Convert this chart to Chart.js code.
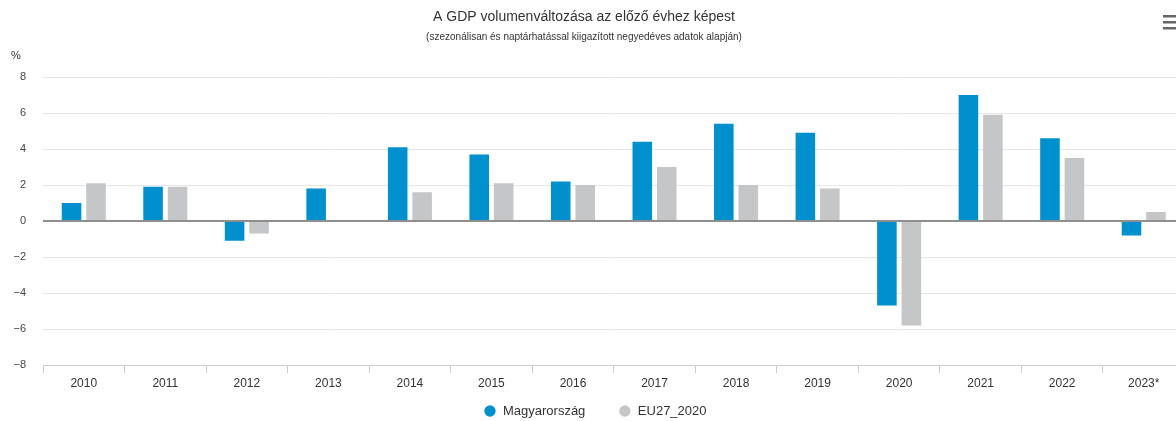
<!DOCTYPE html>
<html><head><meta charset="utf-8">
<script src="https://cdn.jsdelivr.net/npm/chart.js@4"></script>
<style>html,body{margin:0;padding:0;background:#fff;overflow:hidden;width:1176px;height:421px}
#wrap{position:relative;width:1185px;height:421px}</style></head>
<body><div id="wrap"><canvas id="c"></canvas></div>
<script>
const categories = ['2010','2011','2012','2013','2014','2015','2016','2017','2018','2019','2020','2021','2022','2023*'];
const huValues = [1.0, 1.9, -1.1, 1.8, 4.1, 3.7, 2.2, 4.4, 5.4, 4.9, -4.7, 7.0, 4.6, -0.8];
const euValues = [2.1, 1.9, -0.7, 0.0, 1.6, 2.1, 2.0, 3.0, 2.0, 1.8, -5.8, 5.9, 3.5, 0.5];
const yTicks = [-8, -6, -4, -2, 0, 2, 4, 6, 8];
const seriesNames = ['Magyarország', 'EU27_2020'];
const titleText = 'A GDP volumenváltozása az előző évhez képest';
const subtitleText = '(szezonálisan és naptárhatással kiigazított negyedéves adatok alapján)';
const unitText = '%';

const FONT = '"Liberation Sans", Arial, Helvetica, sans-serif';

const decor = {
  id: 'decor',
  afterLayout(chart) {
    const l = chart.legend;
    if (l) {
      const h = l.height;
      l.top = chart.chartArea.bottom + 6.5;
      l.bottom = l.top + h;
    }
  },
  afterDraw(chart) {
    const ctx = chart.ctx;
    ctx.save();
    ctx.fillStyle = '#333333';
    ctx.textAlign = 'center';
    ctx.textBaseline = 'middle';
    ctx.font = '14px ' + FONT;
    ctx.fillText(titleText, 584, 17);
    ctx.font = '10px ' + FONT;
    ctx.fillText(subtitleText, 584, 37);
    ctx.textAlign = 'left';
    ctx.font = '11px ' + FONT;
    ctx.fillStyle = '#333333';
    ctx.fillText(unitText, 11, 56);
    ctx.fillStyle = '#666666';
    ctx.fillRect(1163, 15, 14, 2.5);
    ctx.fillRect(1163, 21, 14, 2.5);
    ctx.fillRect(1163, 27, 14, 2.5);
    ctx.restore();
  }
};

new Chart(document.getElementById('c'), {
  type: 'bar',
  data: {
    labels: categories,
    datasets: [
      { label: seriesNames[0], data: huValues, backgroundColor: '#0090cd', borderWidth: 0,
        categoryPercentage: 0.6, barPercentage: 0.8 },
      { label: seriesNames[1], data: euValues, backgroundColor: '#c5c6c8', borderWidth: 0,
        categoryPercentage: 0.6, barPercentage: 0.8 }
    ]
  },
  options: {
    responsive: true,
    maintainAspectRatio: false,
    animation: false,
    layout: { padding: { top: 77, left: 5.5, right: 0.5, bottom: -24 } },
    plugins: {
      title: { display: false },
      tooltip: { enabled: false },
      legend: {
        position: 'bottom',
        labels: {
          usePointStyle: true, pointStyle: 'circle',
          boxWidth: 14, boxHeight: 8, padding: 33,
          color: '#333333', font: { family: FONT, size: 13 }
        }
      }
    },
    scales: {
      x: {
        offset: true,
        grid: { display: true, drawOnChartArea: false, drawTicks: true, tickLength: 8, color: '#cccccc', offset: true },
        border: { display: true, color: '#cccccc', width: 1 },
        ticks: { padding: 3, maxRotation: 0, autoSkip: false, color: '#333333', font: { family: FONT, size: 12 } },
        afterFit(s) { s.height = 24; }
      },
      y: {
        min: yTicks[0], max: yTicks[yTicks.length - 1],
        afterBuildTicks(s) { s.ticks = yTicks.map(v => ({ value: v })); },
        grid: {
          drawTicks: false,
          color: c => (c.tick && c.tick.value === 0) ? '#8f8f8f' : '#e6e6e6',
          lineWidth: c => (c.tick && c.tick.value === 0) ? 2 : 1
        },
        border: { display: false },
        ticks: {
          padding: 17, color: '#444444', font: { family: FONT, size: 11 },
          callback: v => String(v).replace('-', '\u2212')
        },
        afterFit(s) { s.width = 37.5; }
      }
    }
  },
  plugins: [decor]
});
</script></body></html>
